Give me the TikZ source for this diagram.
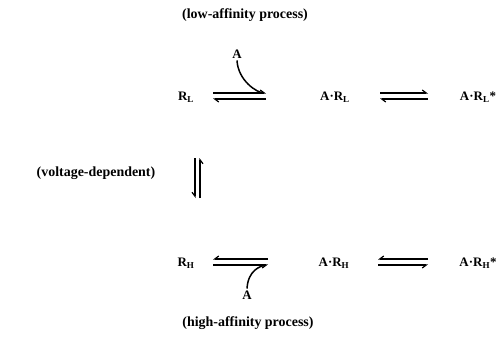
\documentclass[tikz,border=0pt]{standalone}
\usepackage{fontspec}
\setmainfont{Liberation Serif}
\usetikzlibrary{arrows.meta}
\tikzset{
  lbl/.style={font=\bfseries\fontsize{13}{15}\selectfont, inner sep=1pt},
  captxt/.style={font=\bfseries\fontsize{14}{16}\selectfont, inner sep=1pt},
  hl/.style={line width=1.2pt, -{Straight Barb[left,length=4pt,width=6pt]}},
  hr/.style={line width=1.2pt, -{Straight Barb[right,length=4pt,width=6pt]}},
  bind/.style={line width=1.5pt}
}
\begin{document}
\begin{tikzpicture}[x=1bp,y=1bp]
\useasboundingbox (0,0) rectangle (499,336);

% captions
\node[captxt] (low) at (245,321) {(low-affinity process)};
\node[captxt] (high) at (248,13) {(high-affinity process)};
\node[captxt] (volt) at (96,163) {(voltage-dependent)};

% low-affinity row
\node[lbl] (RL) at (186,239) {R\textsubscript{L}};
\node[lbl] (ARL) at (335,239) {A·R\textsubscript{L}};
\node[lbl] (ARLs) at (478,239) {A·R\textsubscript{L}*};
\node[lbl] (Atop) at (237,282) {A};

% high-affinity row
\node[lbl] (RH) at (186,73) {R\textsubscript{H}};
\node[lbl] (ARH) at (334,73) {A·R\textsubscript{H}};
\node[lbl] (ARHs) at (478,73) {A·R\textsubscript{H}*};
\node[lbl] (Abot) at (247,41) {A};

% harpoon end points
\coordinate (a1tl) at (213,243); \coordinate (a1tr) at (266,243);
\coordinate (a1bl) at (213,237); \coordinate (a1br) at (266,237);
\coordinate (a2tl) at (380,243); \coordinate (a2tr) at (428,243);
\coordinate (a2bl) at (380,237); \coordinate (a2br) at (428,237);
\coordinate (a3tl) at (213,77); \coordinate (a3tr) at (268,77);
\coordinate (a3bl) at (213,71); \coordinate (a3br) at (268,71);
\coordinate (a4tl) at (378,77); \coordinate (a4tr) at (428,77);
\coordinate (a4bl) at (378,71); \coordinate (a4br) at (428,71);
\coordinate (vlt) at (195,178); \coordinate (vlb) at (195,138);
\coordinate (vrt) at (200,178); \coordinate (vrb) at (200,138);

% R_L <=> A.R_L <=> A.R_L*
\draw[hl] (a1tl) -- (a1tr);
\draw[hl] (a1br) -- (a1bl);
\draw[hl] (a2tl) -- (a2tr);
\draw[hl] (a2br) -- (a2bl);

% R_H <=> A.R_H <=> A.R_H*
\draw[hr] (a3tr) -- (a3tl);
\draw[hr] (a3bl) -- (a3br);
\draw[hr] (a4tr) -- (a4tl);
\draw[hr] (a4bl) -- (a4br);

% voltage-dependent interconversion
\draw[hr] (vlt) -- (vlb);
\draw[hr] (vrb) -- (vrt);

% agonist binding
\draw[bind] ([yshift=-1bp]Atop.south) .. controls +(1,-20) and +(-7,0) .. ([xshift=-2bp]a1tr);
\draw[bind] ([yshift=1bp]Abot.north) .. controls +(1,18) and +(-6,-1) .. ([xshift=-2bp]a3br);
\end{tikzpicture}
\end{document}
